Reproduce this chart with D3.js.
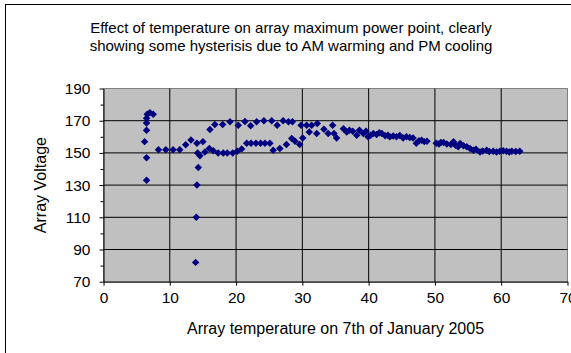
<!DOCTYPE html>
<html>
<head>
<meta charset="utf-8">
<script src="https://cdn.jsdelivr.net/npm/d3@7"></script>
<style>
  body { margin: 0; background: #fff; }
  text { font-family: "Liberation Sans", Arial, sans-serif; fill: #000; }
</style>
</head>
<body>
<div id="chart"></div>
<script>
var titleLines = ["Effect of temperature on array maximum power point, clearly",
  "showing some hysterisis due to AM warming and PM cooling"];
var xTitle = "Array temperature on 7th of January 2005";
var yTitle = "Array Voltage";
var xTicks = [0, 10, 20, 30, 40, 50, 60, 70];
var yTicks = [70, 90, 110, 130, 150, 170, 190];
var yMinorTicks = [80, 100, 120, 140, 160, 180];

// array temperature (deg C) and voltage at max power point
var temps = [
  6.5, 6.5, 6.2, 6.5, 6.5, 6.5, 6.6, 7.0, 7.5,
  8.3, 9.4, 10.5, 11.5, 12.4, 13.2, 14.1, 15.0,
  14.2, 14.3, 14.1, 14.0, 13.9,
  14.55, 15.3, 15.96, 16.56, 17.3, 18.07, 18.67, 19.49, 20.18, 20.84,
  21.6, 22.25, 23.0, 23.7, 24.36, 25.1, 25.6, 26.6, 27.6, 28.4, 28.9,
  29.6, 30.05, 31.04, 32.16, 33.26, 33.9, 34.77, 35.17,
  16.06, 16.8, 17.98, 19.08, 20.33, 21.34, 22.2, 23.1, 24.2, 25.37,
  26.2, 27.1, 27.9, 28.5, 29.8, 30.65, 31.4, 32.25, 34.57,
  36.2, 36.7, 37.1, 37.6, 38.2, 38.6, 39.2, 39.6, 39.9, 40.3, 40.7,
  41.2, 41.6, 42.0, 42.5, 42.9, 43.2, 43.7, 44.2, 44.7, 45.2, 45.7,
  46.2, 46.7, 47.2, 47.6, 48.0, 48.4, 48.8, 50.2, 50.6, 50.9, 51.3,
  51.8, 52.4, 52.8, 53.1, 53.5, 53.8, 54.3, 54.8, 55.3, 55.8, 56.2,
  56.8, 57.2, 57.8, 58.2, 58.8, 59.3, 59.8, 60.3, 60.8, 61.2, 61.6,
  62.2, 62.8
];
var volts = [
  133, 147, 157, 164, 168.6, 171.5, 174, 175, 174,
  152, 152, 152, 152, 155, 158, 156, 157,
  150, 141, 130, 110, 82,
  148.2, 150.6, 152.7, 151.3, 150, 150, 150, 150, 151, 152.5,
  156, 156, 156, 156, 156, 156, 151.7, 152.7, 155.2, 159, 157.3,
  155.2, 159.3, 163, 162, 164.7, 162, 162, 159.3,
  164.5, 167.6, 167.7, 169.3, 167.2, 169.5, 166.8, 169.3, 169.9, 169.9,
  167.2, 169.9, 169.4, 169.3, 167.2, 167.2, 167.2, 168.2, 167.2,
  165, 163, 164, 163.5, 161, 164, 162, 163.5, 160, 161, 162,
  161.5, 162.5, 162, 160.6, 161, 160, 160.5, 160, 160.8, 159.3, 160,
  159.6, 159.3, 156, 157.5, 157.9, 157, 157.3, 156, 155.5, 156.5, 156.5,
  155.5, 155.2, 156.9, 154.8, 153.8, 155.9, 154.5, 153.8, 152.8, 151.7, 152.3,
  150.6, 151.2, 151.7, 150.8, 151, 150.5, 151, 151.4, 151, 150.6, 151,
  150.8, 151
];

var W = 571, H = 353;
var plotL = 103.5, plotR = 567.5, plotT = 88.5, plotB = 281.7;

var svg = d3.select("#chart").append("svg")
  .attr("width", W)
  .attr("height", H);

// chart frame, runs off the right and bottom edge
svg.append("rect")
  .attr("x", 5.5).attr("y", 4.5)
  .attr("width", 640).attr("height", 380)
  .attr("fill", "#fff")
  .attr("stroke", "#000");

var x = d3.scaleLinear().domain([0, 70]).range([plotL, plotR]);
var y = d3.scaleLinear().domain([70, 190]).range([plotB, plotT]);

// plot area
svg.append("rect")
  .attr("x", plotL).attr("y", plotT)
  .attr("width", plotR - plotL).attr("height", plotB - plotT)
  .attr("fill", "#c0c0c0")
  .attr("stroke", "#808080");

// grid
svg.append("g").selectAll("line")
  .data(yTicks.slice(1, -1))
  .enter().append("line")
  .attr("x1", plotL).attr("x2", plotR)
  .attr("y1", function (d) { return y(d); })
  .attr("y2", function (d) { return y(d); })
  .attr("stroke", "#000");

svg.append("g").selectAll("line")
  .data(xTicks.slice(1, -1))
  .enter().append("line")
  .attr("y1", plotT).attr("y2", plotB)
  .attr("x1", function (d) { return x(d); })
  .attr("x2", function (d) { return x(d); })
  .attr("stroke", "#000");

// axes
var yAxis = d3.axisLeft(y).tickValues(yTicks).tickSize(4).tickPadding(9).tickSizeOuter(0);
var xAxis = d3.axisBottom(x).tickValues(xTicks).tickSize(4).tickPadding(6).tickSizeOuter(0);

var gy = svg.append("g").attr("transform", "translate(" + plotL + ",0)").call(yAxis);
var gx = svg.append("g").attr("transform", "translate(0," + plotB + ")").call(xAxis);

svg.append("g").attr("transform", "translate(" + plotL + ",0)")
  .call(d3.axisLeft(y).tickValues(yMinorTicks).tickSize(3).tickFormat(""))
  .select(".domain").remove();

[gy, gx].forEach(function (g) {
  g.select(".domain").attr("stroke", "#000");
  g.selectAll(".tick line").attr("stroke", "#000");
  g.selectAll(".tick text")
    .style("font-family", "'Liberation Sans', Arial, sans-serif")
    .style("font-size", "15.5px")
    .attr("fill", "#000");
});

// points
svg.append("g").selectAll("path")
  .data(temps.map(function (t, i) { return [t, volts[i]]; }))
  .enter().append("path")
  .attr("d", d3.symbol(d3.symbolSquare, 28))
  .attr("transform", function (d) {
    return "translate(" + x(d[0]) + "," + y(d[1]) + ") rotate(45)";
  })
  .attr("fill", "#000080");

// titles
svg.append("g").selectAll("text")
  .data(titleLines)
  .enter().append("text")
  .attr("x", 291)
  .attr("y", function (d, i) { return 33 + i * 18; })
  .attr("text-anchor", "middle")
  .style("font-size", "15px")
  .text(function (d) { return d; });

svg.append("text")
  .attr("x", (plotL + plotR) / 2)
  .attr("y", 334)
  .attr("text-anchor", "middle")
  .style("font-size", "16px")
  .text(xTitle);

svg.append("text")
  .attr("transform", "translate(46," + ((plotT + plotB) / 2) + ") rotate(-90)")
  .attr("text-anchor", "middle")
  .style("font-size", "16px")
  .text(yTitle);
</script>
</body>
</html>
